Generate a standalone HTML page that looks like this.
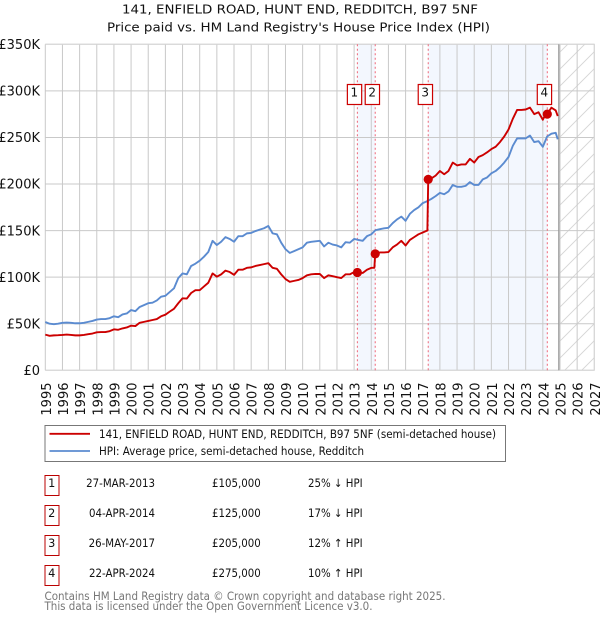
<!DOCTYPE html>
<html lang="en">
<head>
<meta charset="utf-8">
<title>141, Enfield Road price paid vs HPI</title>
<style>
html,body{margin:0;padding:0;background:#fff;width:600px;height:620px;overflow:hidden}
svg{display:block}
text{font-family:"DejaVu Sans","Liberation Sans",sans-serif;fill:#111}
</style>
</head>
<body>
<svg id="chart" xmlns="http://www.w3.org/2000/svg" width="600" height="620" viewBox="0 0 600 620">
<defs>
<pattern id="hatch" patternUnits="userSpaceOnUse" width="17" height="17">
<path d="M-1 18L18 -1M-1 1L1 -1M16 18L18 16" stroke="#d4d4d4" stroke-width="0.9" fill="none"/>
</pattern>
</defs>
<text x="122" y="13.5" font-size="12.5" textLength="356" lengthAdjust="spacingAndGlyphs">141, ENFIELD ROAD, HUNT END, REDDITCH, B97 5NF</text>
<text x="107" y="31.5" font-size="12.5" textLength="383" lengthAdjust="spacingAndGlyphs">Price paid vs. HM Land Registry's House Price Index (HPI)</text>
<g id="plot"></g>
<g>
<rect x="45" y="425.5" width="460.5" height="36" fill="#fff" stroke="#777" stroke-width="1"/>
<line x1="49.5" x2="90" y1="433.8" y2="433.8" stroke="#cc0000" stroke-width="1.8"/>
<text x="99" y="438" font-size="11.2" textLength="397" lengthAdjust="spacingAndGlyphs">141, ENFIELD ROAD, HUNT END, REDDITCH, B97 5NF (semi-detached house)</text>
<line x1="49.5" x2="90" y1="451" y2="451" stroke="#5b8bd0" stroke-width="1.8"/>
<text x="99" y="455" font-size="11.2" textLength="265" lengthAdjust="spacingAndGlyphs">HPI: Average price, semi-detached house, Redditch</text>
</g>
<g id="sales-table"></g>
<g>
<text x="44.5" y="600" font-size="11.2" style="fill:#777" textLength="401" lengthAdjust="spacingAndGlyphs">Contains HM Land Registry data © Crown copyright and database right 2025.</text>
<text x="44.5" y="610" font-size="11.2" style="fill:#777" textLength="328" lengthAdjust="spacingAndGlyphs">This data is licensed under the Open Government Licence v3.0.</text>
</g>
</svg>
<script>
const yearTicks = [1995,1996,1997,1998,1999,2000,2001,2002,2003,2004,2005,2006,2007,2008,2009,2010,2011,2012,2013,2014,2015,2016,2017,2018,2019,2020,2021,2022,2023,2024,2025,2026,2027];
const priceTicks = [0,50,100,150,200,250,300,350];
const priceTickLabels = ['£0','£50K','£100K','£150K','£200K','£250K','£300K','£350K'];

// Quarterly values in £k, from 1995.0 onward
const hpiValues = [
51.8,50,49.5,50, 51,51.3,51,50.5, 50.5,51,52,53, 54.5,55,55,56,
58,57,60,61, 64.7,63.5,68,70, 72,72.6,75,79, 80,84,88,99,
104,103,112,114.5, 117.7,122,127,139, 134.5,138,143,141, 138,144,144,147,
147.5,149.5,151,152.5, 155,147,146,137, 130,126,128,130, 132,137,138,138.5,
139,133,137,135, 134,132,137.5,137, 141,140,139,144, 146,150.5,151.5,152.5,
153,158,162,165, 160.5,168,172,175, 179.5,181.5,184,187, 190.5,189,192,199,
197,197,198,202, 199,199,205,207, 211.5,214,218,223, 229,241,249,249,
249,252,245,246, 240,251,254,255];
const redValues = [
38.3,37,37.5,37.7, 38,38.4,38,37.5, 37.5,38,38.8,39.5, 40.8,41,41,42,
44,43.5,45,46, 47.9,47.5,51,52, 53,54,55,58, 59.7,63,66,72,
77.3,77,83,86, 86,90,94,104, 100.5,103,107,105.5, 102.5,108,108,110,
110.5,112,113,114, 115,110,109,103, 98,95,96,97, 99,102,103,103.5,
103.4,99,102,101, 100,99,103,103, 105.5,105,104.5,108, 110,125.5,126.5,126.5,
127,132,135,139, 134,140,143,146, 148,150,206,209, 214,210.5,214,223,
220,221,221,227, 223,229,231,234, 237.5,240,245,251, 258.5,270,279.5,279.5,
280,282,275,277, 269,278,282,279];
const seriesEndYear = 2024.87;
const hpiEndValue = 248;
const redEndValue = 273;

const saleLabels = ['1','2','3','4'];
const saleYears = [2013.19,2014.23,2017.32,2024.26];
const salePrices = [105,125,205,275];
const saleDates = ['27-MAR-2013','04-APR-2014','26-MAY-2017','22-APR-2024'];
const salePriceText = ['£105,000','£125,000','£205,000','£275,000'];
const saleHpiText = ['25% ↓ HPI','17% ↓ HPI','12% ↑ HPI','10% ↑ HPI'];

const NS = 'http://www.w3.org/2000/svg';
const X0 = 45.3, X1 = 594.3, Y0 = 370.3, Y1 = 44.3;
const xScale = y => X0 + (y - 1995) * (X1 - X0) / 32;
const yScale = v => Y0 - v * (Y0 - Y1) / 350;
const plot = document.getElementById('plot');
const table = document.getElementById('sales-table');

function make(parent, tag, attrs, text) {
  const el = document.createElementNS(NS, tag);
  for (const k in attrs) el.setAttribute(k, attrs[k]);
  if (text !== undefined) el.textContent = text;
  parent.appendChild(el);
  return el;
}

const bg = make(plot, 'rect', {x:X0, y:Y1, width:X1-X0, height:Y0-Y1, fill:'#fff'});



[[0,1],[2,3]].forEach(function(pair) {
  const x = xScale(saleYears[pair[0]]);
  const band = make(plot, 'rect', {x:x, y:Y1, width:xScale(saleYears[pair[1]])-x, height:Y0-Y1, fill:'#f3f7fe'});
  
  
});

const hatchStart = xScale(2024.93);
const hatched = make(plot, 'rect', {x:hatchStart, y:Y1, width:X1-hatchStart, height:Y0-Y1, fill:'url(#hatch)'});



yearTicks.forEach(function(y) {
  const x = xScale(y);
  const g = make(plot, 'line', {x1:x, x2:x, y1:Y1, y2:Y0, stroke:'#c9c9c9', 'stroke-width':1});
  
  
  const t = make(plot, 'text', {x:0, y:0, 'font-size':13, 'text-anchor':'end', transform:'translate(' + (x + 5.5) + ',382.5) rotate(-90)'}, String(y));
  
  
});

priceTicks.forEach(function(v, i) {
  const y = yScale(v);
  const g = make(plot, 'line', {x1:X0, x2:X1, y1:y, y2:y, stroke:'#c9c9c9', 'stroke-width':1});
  
  
  const t = make(plot, 'text', {x:40, y:y + 4.7, 'font-size':13, 'text-anchor':'end'}, priceTickLabels[i]);
  
  
});

const frame = make(plot, 'path', {d:'M' + X0 + ' ' + Y1 + 'H' + X1 + 'V' + Y0 + 'H' + X0, fill:'none', stroke:'#d6d6d6', 'stroke-width':1});



const nowLine = make(plot, 'line', {x1:hatchStart, x2:hatchStart, y1:Y1, y2:Y0, stroke:'#999', 'stroke-width':1.2});



saleYears.forEach(function(y) {
  const x = xScale(y);
  const d = make(plot, 'line', {x1:x, x2:x, y1:Y1, y2:Y0, stroke:'#ee6677', 'stroke-width':1, 'stroke-dasharray':'2 2.5'});
  
  
});

function quarterPoints(values, endValue) {
  const pts = values.map(function(v, i) { return [1995 + i / 4, v]; });
  pts.push([seriesEndYear, endValue]);
  return pts;
}
function pathOf(pts) {
  return pts.map(function(p, i) {
    return (i ? 'L' : 'M') + xScale(p[0]).toFixed(2) + ' ' + yScale(p[1]).toFixed(2);
  }).join('');
}
function redPoints() {
  const pts = quarterPoints(redValues, redEndValue);
  const out = [];
  let s = 0;
  pts.forEach(function(p) {
    while (s < saleYears.length && saleYears[s] < p[0]) {
      const prev = out[out.length - 1];
      if (prev) out.push([saleYears[s] - 0.05, prev[1]]);
      out.push([saleYears[s], salePrices[s]]);
      s++;
    }
    out.push(p);
  });
  return out;
}

const hpiLine = make(plot, 'path', {d:pathOf(quarterPoints(hpiValues, hpiEndValue)), fill:'none', stroke:'#5b8bd0', 'stroke-width':1.9, 'stroke-linejoin':'round'});


const redLine = make(plot, 'path', {d:pathOf(redPoints()), fill:'none', stroke:'#cc0000', 'stroke-width':1.9, 'stroke-linejoin':'round'});



saleYears.forEach(function(y, i) {
  const x = xScale(y);
  const dot = make(plot, 'circle', {cx:x, cy:yScale(salePrices[i]), r:4.6, fill:'#cc0000'});
  
  
  const box = make(plot, 'rect', {x:x - 10, y:84.5, width:14.3, height:20, fill:'#fff', stroke:'#cc0000', 'stroke-width':1.2});
  
  
  const t = make(plot, 'text', {x:x - 3, y:96.7, 'font-size':12, 'text-anchor':'middle'}, saleLabels[i]);
  
  

  const rowY = 475.5 + i * 30;
  const rowBox = make(table, 'rect', {x:45, y:rowY, width:14, height:20, fill:'#fff', stroke:'#bb0000', 'stroke-width':1});
  
  
  const n = make(table, 'text', {x:51.7, y:rowY + 11.5, 'font-size':11.3, 'text-anchor':'middle'}, saleLabels[i]);
  
  
  const dt = make(table, 'text', {x:0, y:0, 'font-size':11.3, 'text-anchor':'end', transform:'translate(155,' + (rowY + 11.7) + ') scale(.905,1)'}, saleDates[i]);
  
  
  const pr = make(table, 'text', {x:0, y:0, 'font-size':11.3, transform:'translate(212,' + (rowY + 11.7) + ') scale(.905,1)'}, salePriceText[i]);
  
  
  const hp = make(table, 'text', {x:0, y:0, 'font-size':11.3, transform:'translate(308,' + (rowY + 11.7) + ') scale(.905,1)'}, saleHpiText[i]);
  
  
});
</script>
</body>
</html>
